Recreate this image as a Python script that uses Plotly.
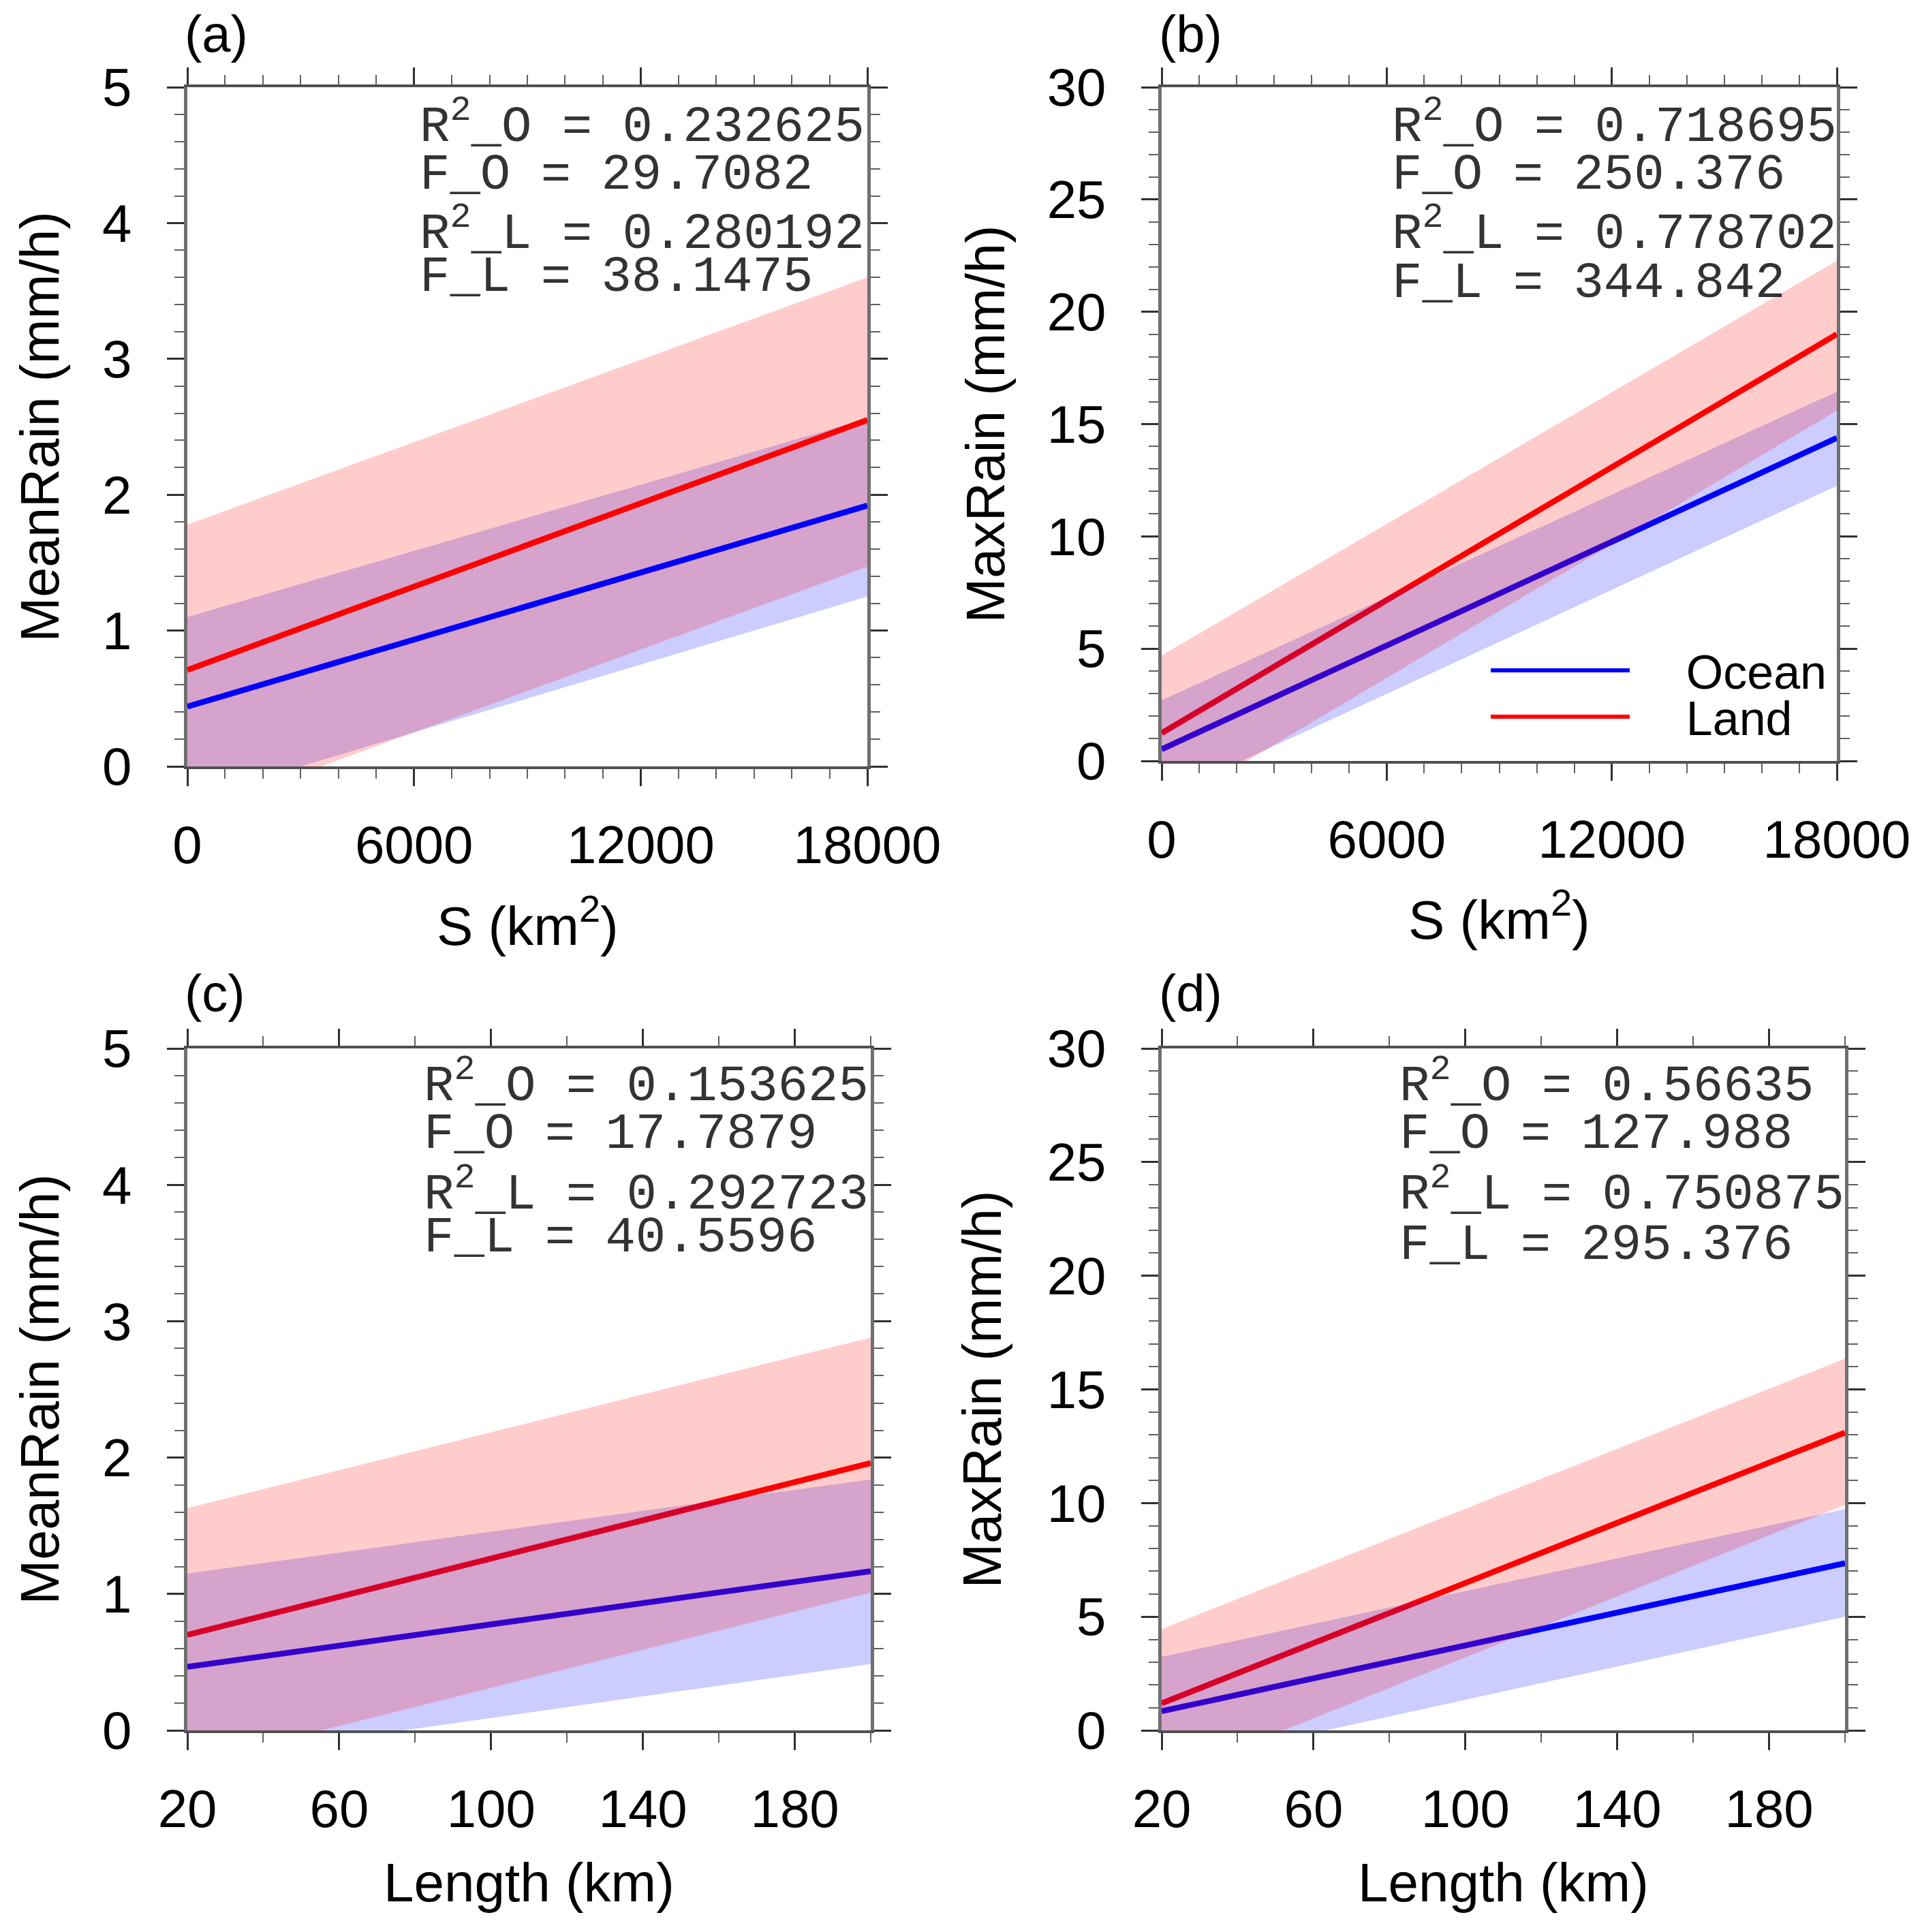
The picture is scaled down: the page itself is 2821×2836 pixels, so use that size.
import plotly.graph_objects as go

WIDTH = 2821
HEIGHT = 2836

# values, start and end of each fitted line
x_area = [0, 18000]
x_length = [20, 200]

# (a) MeanRain vs S
a_land = [0.71, 2.55]
a_land_hi = [1.78, 3.60]
a_land_lo = [-0.36, 1.47]
a_ocean = [0.44, 1.92]
a_ocean_hi = [1.10, 2.56]
a_ocean_lo = [-0.25, 1.25]

# (b) MaxRain vs S
b_land = [1.24, 19.0]
b_land_hi = [4.70, 22.27]
b_land_lo = [-2.25, 15.6]
b_ocean = [0.52, 14.38]
b_ocean_hi = [2.70, 16.44]
b_ocean_lo = [-1.65, 12.25]

# (c) MeanRain vs Length
c_land = [0.70, 1.96]
c_land_hi = [1.63, 2.88]
c_land_lo = [-0.247, 1.01]
c_ocean = [0.465, 1.167]
c_ocean_hi = [1.15, 1.84]
c_ocean_lo = [-0.225, 0.486]

# (d) MaxRain vs Length
d_land = [1.19, 13.1]
d_land_hi = [4.46, 16.35]
d_land_lo = [-2.15, 9.92]
d_ocean = [0.84, 7.35]
d_ocean_hi = [3.24, 9.73]
d_ocean_lo = [-1.58, 5.0]

area_ticks = [0, 3000, 6000, 9000, 12000, 15000, 18000]
area_labels = ["0", "", "6000", "", "12000", "", "18000"]
area_minor = [v for v in range(0, 18001, 1000)]
length_ticks = [20, 60, 100, 140, 180]
length_labels = ["20", "60", "100", "140", "180"]
length_minor = [40, 80, 120, 160, 200]

stats_a = ["R<sup>2</sup>_O = 0.232625", "F_O = 29.7082", "R<sup>2</sup>_L = 0.280192", "F_L = 38.1475"]
stats_b = ["R<sup>2</sup>_O = 0.718695", "F_O = 250.376", "R<sup>2</sup>_L = 0.778702", "F_L = 344.842"]
stats_c = ["R<sup>2</sup>_O = 0.153625", "F_O = 17.7879", "R<sup>2</sup>_L = 0.292723", "F_L = 40.5596"]
stats_d = ["R<sup>2</sup>_O = 0.56635", "F_O = 127.988", "R<sup>2</sup>_L = 0.750875", "F_L = 295.376"]

RED = "rgb(255,0,0)"
BLUE = "rgb(0,0,255)"
RED_BAND = "rgba(255,0,0,0.2)"
BLUE_BAND = "rgba(0,0,255,0.2)"
SANS = "Liberation Sans"
MONO = "Liberation Mono"


def px(x):
    return x / WIDTH


def py(y):
    return 1 - y / HEIGHT


panels = [
    dict(name="", box=(275, 1273, 128, 1125), x=x_area, land=a_land, land_hi=a_land_hi, land_lo=a_land_lo,
         ocean=a_ocean, ocean_hi=a_ocean_hi, ocean_lo=a_ocean_lo, ymax=5, ydt=1, yminor=0.2,
         ytitle="MeanRain (mm/h)", xtitle="S (km<sup>2</sup>)", xticks=area_ticks, xlabels=area_labels,
         xminor=area_minor, lines_on_top=True, tag="(a)", tag_xy=(269, 49), stats=stats_a, stats_x=614,
         stats_y=[181, 257, 338, 407], ytitle_x=58, xtitle_y=1353),
    dict(name="2", box=(1705, 2696, 128, 1117), x=x_area, land=b_land, land_hi=b_land_hi, land_lo=b_land_lo,
         ocean=b_ocean, ocean_hi=b_ocean_hi, ocean_lo=b_ocean_lo, ymax=30, ydt=5, yminor=1,
         ytitle="MaxRain (mm/h)", xtitle="S (km<sup>2</sup>)", xticks=area_ticks, xlabels=area_labels,
         xminor=area_minor, lines_on_top=False, tag="(b)", tag_xy=(1699, 49), stats=stats_b, stats_x=2041,
         stats_y=[181, 257, 338, 416], ytitle_x=1446, xtitle_y=1344),
    dict(name="3", box=(275, 1278, 1539, 2540), x=x_length, land=c_land, land_hi=c_land_hi, land_lo=c_land_lo,
         ocean=c_ocean, ocean_hi=c_ocean_hi, ocean_lo=c_ocean_lo, ymax=5, ydt=1, yminor=0.2,
         ytitle="MeanRain (mm/h)", xtitle="Length (km)", xticks=length_ticks, xlabels=length_labels,
         xminor=length_minor, lines_on_top=False, tag="(c)", tag_xy=(269, 1457), stats=stats_c, stats_x=620,
         stats_y=[1589, 1665, 1748, 1817], ytitle_x=58, xtitle_y=2763),
    dict(name="4", box=(1705, 2708, 1539, 2540), x=x_length, land=d_land, land_hi=d_land_hi, land_lo=d_land_lo,
         ocean=d_ocean, ocean_hi=d_ocean_hi, ocean_lo=d_ocean_lo, ymax=30, ydt=5, yminor=1,
         ytitle="MaxRain (mm/h)", xtitle="Length (km)", xticks=length_ticks, xlabels=length_labels,
         xminor=length_minor, lines_on_top=False, tag="(d)", tag_xy=(1699, 1457), stats=stats_d, stats_x=2052,
         stats_y=[1589, 1665, 1748, 1828], ytitle_x=1441, xtitle_y=2763),
]

fig = go.Figure()
annotations = []
axes = {}

for p in panels:
    n = p["name"]
    xref, yref = "x" + n, "y" + n
    x = p["x"]

    band_x = [x[0], x[1], x[1], x[0]]
    bands = [
        go.Scatter(x=band_x, y=p["ocean_lo"] + p["ocean_hi"][::-1], xaxis=xref, yaxis=yref, mode="none",
                   fill="toself", fillcolor=BLUE_BAND, showlegend=False, hoverinfo="skip"),
        go.Scatter(x=band_x, y=p["land_lo"] + p["land_hi"][::-1], xaxis=xref, yaxis=yref, mode="none",
                   fill="toself", fillcolor=RED_BAND, showlegend=False, hoverinfo="skip"),
    ]
    lines = [
        go.Scatter(x=x, y=p["ocean"], xaxis=xref, yaxis=yref, mode="lines", line=dict(color=BLUE, width=8.5),
                   showlegend=False),
        go.Scatter(x=x, y=p["land"], xaxis=xref, yaxis=yref, mode="lines", line=dict(color=RED, width=8.5),
                   showlegend=False),
    ]
    # panel (a) has the lines over the shading, the others under it
    fig.add_traces(bands + lines if p["lines_on_top"] else lines + bands)

    x0, x1, y0, y1 = p["box"]
    common = dict(automargin=False, showline=True, mirror="allticks", ticks="outside",
                  ticklen=25, tickwidth=3, tickcolor="#303030", showgrid=False, zeroline=False,
                  tickfont=dict(family=SANS, size=78, color="black"))
    axes["xaxis" + n] = dict(common, linecolor="#505050", linewidth=4, domain=[px(x0), px(x1)], anchor=yref,
                             range=x, tickmode="array", tickvals=p["xticks"], ticktext=p["xlabels"],
                             ticklabelstandoff=19,
                             minor=dict(tickmode="array", tickvals=p["xminor"], ticks="outside", ticklen=14,
                                        tickwidth=2, tickcolor="#606060", showgrid=False))
    axes["yaxis" + n] = dict(common, linecolor="#707070", linewidth=5, domain=[py(y1), py(y0)], anchor=xref,
                             range=[0, p["ymax"]], tickmode="linear", tick0=0, dtick=p["ydt"],
                             ticklabelstandoff=36,
                             minor=dict(tickmode="linear", tick0=0, dtick=p["yminor"], ticks="outside", ticklen=14,
                                        tickwidth=2, tickcolor="#606060", showgrid=False))

    # axis titles placed by page position so they sit where the originals do
    annotations.append(dict(text=p["xtitle"], xref="paper", yref="paper", x=px((x0 + x1) / 2), y=py(p["xtitle_y"]),
                            showarrow=False, xanchor="center", yanchor="middle",
                            font=dict(family=SANS, size=80, color="black")))
    annotations.append(dict(text=p["ytitle"], xref="paper", yref="paper", x=px(p["ytitle_x"]), y=py((y0 + y1) / 2),
                            showarrow=False, xanchor="center", yanchor="middle", textangle=-90,
                            font=dict(family=SANS, size=79, color="black")))
    annotations.append(dict(text=p["tag"], xref="paper", yref="paper", x=px(p["tag_xy"][0]), y=py(p["tag_xy"][1]),
                            showarrow=False, xanchor="left", yanchor="middle",
                            font=dict(family=SANS, size=76, color="black")))
    for line, ypos in zip(p["stats"], p["stats_y"]):
        annotations.append(dict(text=line, xref="paper", yref="paper", x=px(p["stats_x"]), y=py(ypos),
                                showarrow=False, xanchor="left", yanchor="middle",
                                font=dict(family=MONO, size=74, color="#333333")))

# legend sits in panel (b); one legend per row because the rows are closer than plotly's line height
gap = "\u00a0" * 4
fig.add_trace(go.Scatter(x=[None], y=[None], xaxis="x2", yaxis="y2", mode="lines", name=gap + "Ocean",
                         line=dict(color=BLUE, width=6), legend="legend"))
fig.add_trace(go.Scatter(x=[None], y=[None], xaxis="x2", yaxis="y2", mode="lines", name=gap + "Land",
                         line=dict(color=RED, width=6), legend="legend2"))

legend_common = dict(xanchor="left", yanchor="middle", x=px(2183), bgcolor="rgba(0,0,0,0)", borderwidth=0,
                     itemwidth=204, font=dict(family=SANS, size=70, color="black"))

fig.update_layout(
    width=WIDTH,
    height=HEIGHT,
    margin=dict(l=0, r=0, t=0, b=0),
    paper_bgcolor="white",
    plot_bgcolor="white",
    showlegend=True,
    legend=dict(legend_common, y=py(984)),
    legend2=dict(legend_common, y=py(1052)),
    annotations=annotations,
    **axes,
)

fig.write_html("out.html", config={"displayModeBar": False}, post_script="document.body.style.margin='0';")
